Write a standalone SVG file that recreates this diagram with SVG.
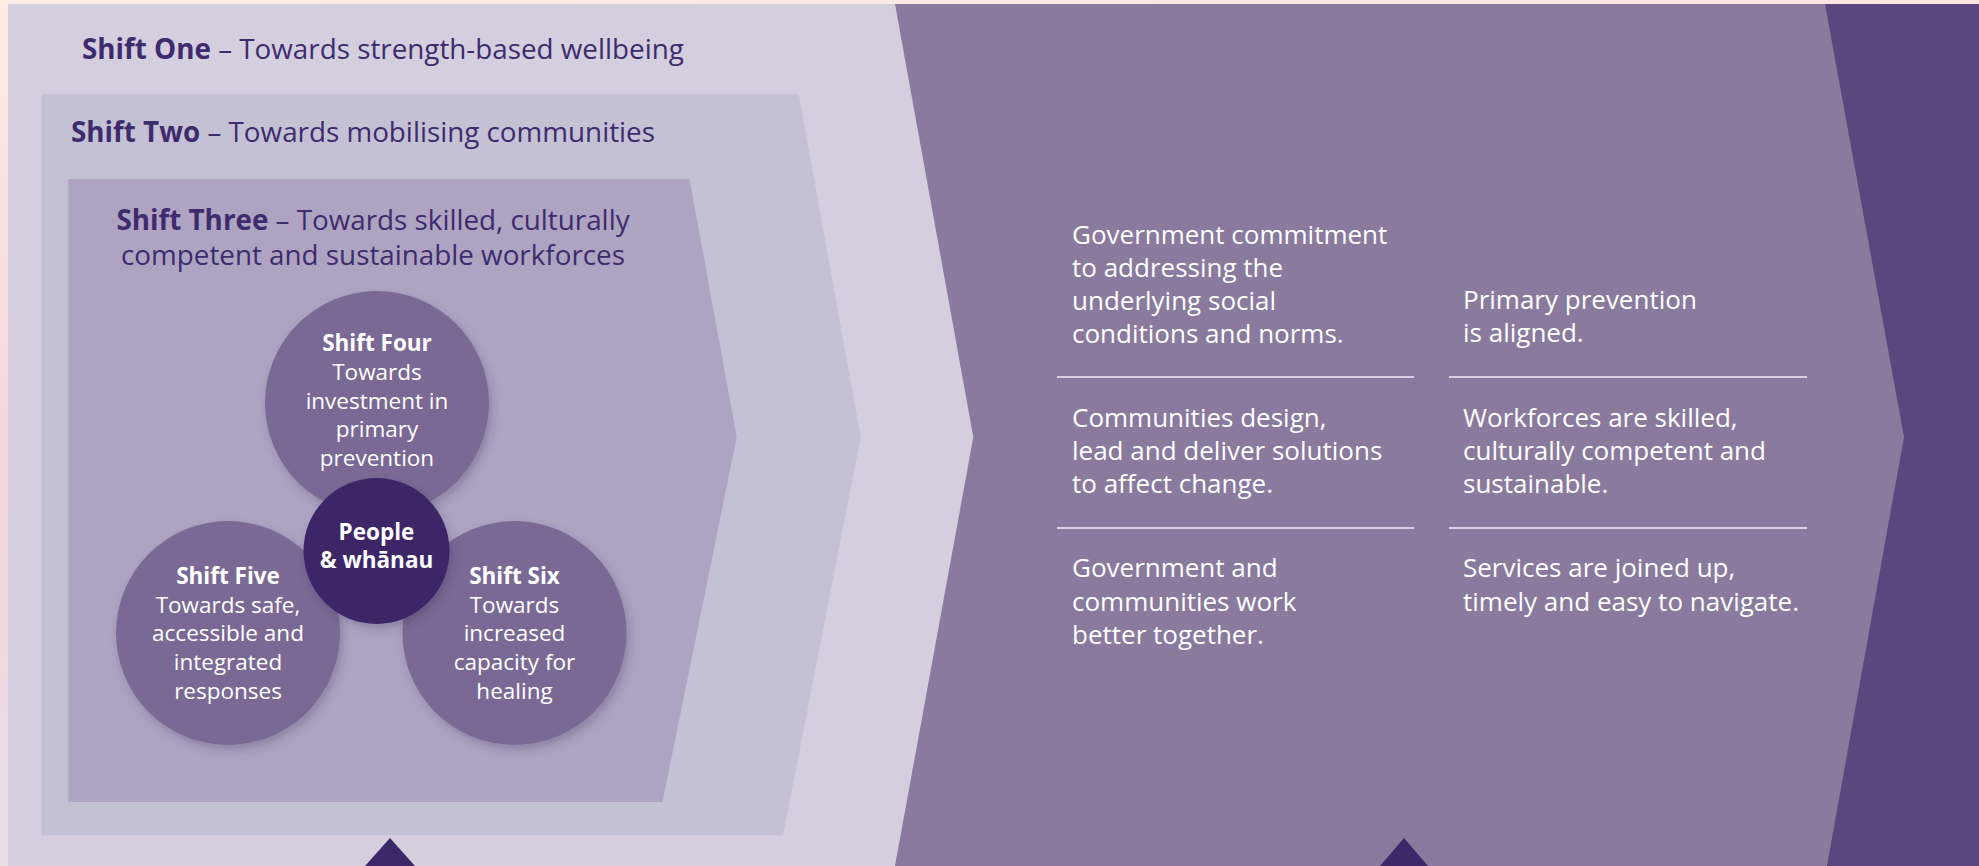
<svg xmlns="http://www.w3.org/2000/svg" width="1979" height="866" viewBox="0 0 1979 866">
<defs>
<linearGradient id="bg" x1="0" y1="0" x2="0.15" y2="1">
<stop offset="0" stop-color="#FCEDE4"/>
<stop offset="0.5" stop-color="#F4D6DE"/>
<stop offset="1" stop-color="#E6DEE8"/>
</linearGradient>
<filter id="sh" x="-20%" y="-20%" width="150%" height="150%">
<feDropShadow dx="3" dy="5" stdDeviation="5" flood-color="#3a2a5a" flood-opacity="0.28"/>
</filter>
<style>
.head{font-family:"Open Sans","Liberation Sans",sans-serif;font-size:27.8px;fill:#3D2B6E}
.b{font-weight:bold}
.ct{font-family:"Open Sans","Liberation Sans",sans-serif;font-size:22.5px;fill:#FFFFFF;text-anchor:middle}
.rt{font-family:"Open Sans","Liberation Sans",sans-serif;font-size:26px;fill:#FFFFFF}
.circ{fill:#7A6994;filter:url(#sh)}
.div{stroke:#D9D1E3;stroke-width:2}
.tri{fill:#3C2868}
</style>
</defs>
<rect x="0" y="0" width="1979" height="866" fill="url(#bg)"/>
<g id="dark-band"><rect x="1700" y="4" width="279" height="862" fill="#5A477E"/></g>
<g id="outcomes-panel"><polygon points="880,4 1825,4 1904,437 1827,866 880,866" fill="#897A9E"/></g>
<g id="shift-one">
<polygon points="8,4 895,4 973.3,437 895,866 8,866" fill="#D4CEDE"/>
<text class="head" x="82" y="59"><tspan class="b">Shift One</tspan> – Towards strength-based wellbeing</text>
</g>
<g id="shift-two">
<polygon points="41.5,94 798.7,94 860.7,437 783,835.5 41.5,835.5" fill="#C5C1D4"/>
<text class="head" x="71" y="142"><tspan class="b">Shift Two</tspan> – Towards mobilising communities</text>
</g>
<g id="shift-three">
<polygon points="68.2,179 689.5,179 736.7,437 662.5,802 68.2,802" fill="#AEA4C1"/>
<text class="head" text-anchor="middle" x="373" y="230"><tspan class="b">Shift Three</tspan> – Towards skilled, culturally</text>
<text class="head" text-anchor="middle" x="373" y="265">competent and sustainable workforces</text>
</g>
<g id="shift-four">
<circle class="circ" cx="377" cy="403" r="112"/>
<text class="ct" x="377" y="351"><tspan class="b">Shift Four</tspan></text>
<text class="ct" x="377" y="380">Towards</text>
<text class="ct" x="377" y="409">investment in</text>
<text class="ct" x="377" y="437">primary</text>
<text class="ct" x="377" y="466">prevention</text>
</g>
<g id="shift-five">
<circle class="circ" cx="228" cy="633" r="112"/>
<text class="ct" x="228" y="584"><tspan class="b">Shift Five</tspan></text>
<text class="ct" x="228" y="613">Towards safe,</text>
<text class="ct" x="228" y="641">accessible and</text>
<text class="ct" x="228" y="670">integrated</text>
<text class="ct" x="228" y="699">responses</text>
</g>
<g id="shift-six">
<circle class="circ" cx="514.5" cy="633" r="112"/>
<text class="ct" x="514.5" y="584"><tspan class="b">Shift Six</tspan></text>
<text class="ct" x="514.5" y="613">Towards</text>
<text class="ct" x="514.5" y="641">increased</text>
<text class="ct" x="514.5" y="670">capacity for</text>
<text class="ct" x="514.5" y="699">healing</text>
</g>
<g id="people-whanau">
<circle cx="376.5" cy="551" r="73" fill="#3C2868" filter="url(#sh)"/>
<text class="ct b" x="376.5" y="540">People</text>
<text class="ct b" x="376.5" y="568">&amp; whānau</text>
</g>
<g id="outcome-1">
<text class="rt" x="1072" y="244">Government commitment</text>
<text class="rt" x="1072" y="277">to addressing the</text>
<text class="rt" x="1072" y="310">underlying social</text>
<text class="rt" x="1072" y="343">conditions and norms.</text>
</g>
<g id="outcome-2">
<text class="rt" x="1463" y="309">Primary prevention</text>
<text class="rt" x="1463" y="342">is aligned.</text>
</g>
<g id="outcome-3">
<text class="rt" x="1072" y="427">Communities design,</text>
<text class="rt" x="1072" y="460">lead and deliver solutions</text>
<text class="rt" x="1072" y="493">to affect change.</text>
</g>
<g id="outcome-4">
<text class="rt" x="1463" y="427">Workforces are skilled,</text>
<text class="rt" x="1463" y="460">culturally competent and</text>
<text class="rt" x="1463" y="493">sustainable.</text>
</g>
<g id="outcome-5">
<text class="rt" x="1072" y="577">Government and</text>
<text class="rt" x="1072" y="611">communities work</text>
<text class="rt" x="1072" y="644">better together.</text>
</g>
<g id="outcome-6">
<text class="rt" x="1463" y="577">Services are joined up,</text>
<text class="rt" x="1463" y="611">timely and easy to navigate.</text>
</g>
<g id="dividers">
<line class="div" x1="1057" y1="377" x2="1414" y2="377"/>
<line class="div" x1="1449" y1="377" x2="1807" y2="377"/>
<line class="div" x1="1057" y1="528" x2="1414" y2="528"/>
<line class="div" x1="1449" y1="528" x2="1807" y2="528"/>
</g>
<g id="pointers">
<polygon class="tri" points="390,838 365,866 415,866"/>
<polygon class="tri" points="1404,838 1380,866 1428,866"/>
</g>
</svg>
